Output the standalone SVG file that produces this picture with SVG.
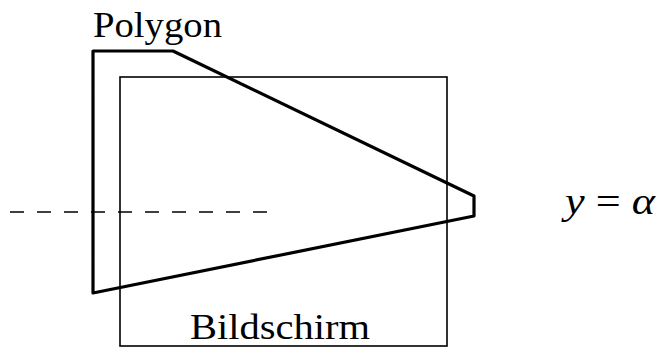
<svg xmlns="http://www.w3.org/2000/svg" width="660" height="347" viewBox="0 0 660 347">
<style>
.lbl{font-family:"Liberation Serif","Times New Roman",serif;font-size:36px;fill:#000}
.math{font-family:"Liberation Serif","Times New Roman",serif;font-style:italic;font-size:37px;fill:#000}
.thin{fill:none;stroke:#000;stroke-width:1.6}
.thick{fill:none;stroke:#000;stroke-width:3.2;stroke-linejoin:round}
.dash{fill:none;stroke:#000;stroke-width:1.6;stroke-dasharray:14 13}
</style>
<rect width="660" height="347" fill="#fff"/>
<g id="bildschirm">
<rect class="thin" x="120" y="77" width="327" height="269"/>
<text class="lbl" x="190" y="339" textLength="180" lengthAdjust="spacingAndGlyphs">Bildschirm</text>
</g>
<g id="polygon">
<polygon class="thick" points="93,51 173,51 474,196 474,216 93,293"/>
<text class="lbl" x="93" y="37" textLength="129" lengthAdjust="spacingAndGlyphs">Polygon</text>
</g>
<g id="connectors">
<line class="dash" x1="10" y1="212" x2="271" y2="212"/>
</g>
<g id="gleichung">
<text class="math" x="565" y="214" textLength="90" lengthAdjust="spacingAndGlyphs">y <tspan font-style="normal">=</tspan> α</text>
</g>
</svg>
